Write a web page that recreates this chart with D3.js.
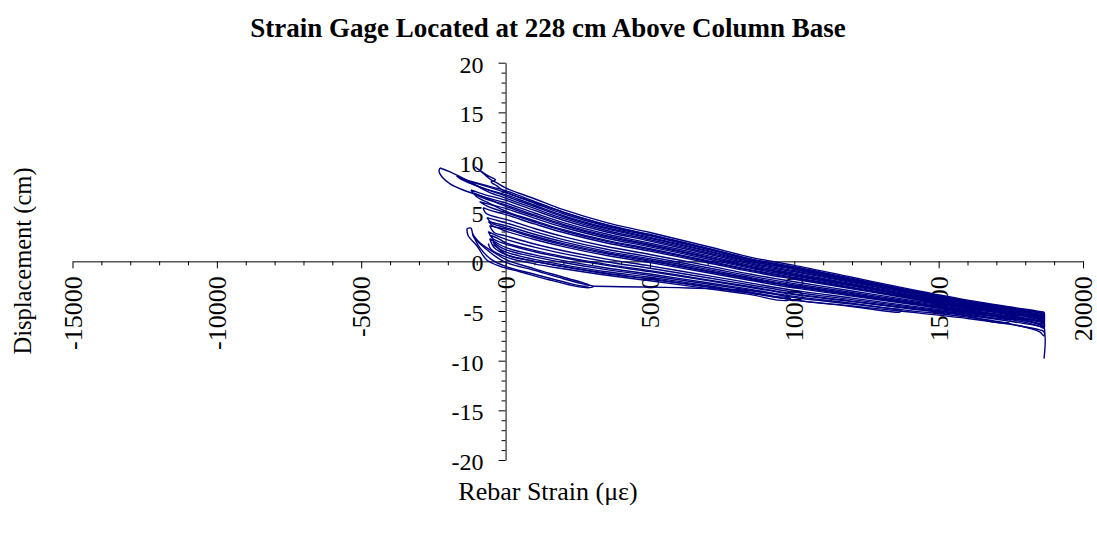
<!DOCTYPE html>
<html>
<head>
<meta charset="utf-8">
<script src="https://cdn.jsdelivr.net/npm/d3@7"></script>
<style>
  body { margin: 0; background: #fff; }
  svg { display: block; }
  text { font-family: "Liberation Serif", "Times New Roman", serif; fill: #000; }
</style>
</head>
<body>
<svg id="chart" width="1097" height="535"></svg>
<script>
// Axis tick values
const xMajorTicks = [-15000, -10000, -5000, 0, 5000, 10000, 15000, 20000];
const yMajorTicks = [-20, -15, -10, -5, 0, 5, 10, 15, 20];

// Recorded loops: [rebar strain (microstrain), displacement (cm)]
const loopSmall1 = [[-1340,3.3],[-1200,3.35],[-1110,2.5],[-700,1.3],[-70,0.0],[1000,-0.9],[2000,-1.75],[2800,-2.35],[3050,-2.5],[2900,-2.65],[2500,-2.55],[1500,-1.85],[500,-1.05],[-190,-0.5],[-650,0.13],[-1000,1.6],[-1300,2.6],[-1340,3.3]];
const loopSmall2 = [[-1150,2.8],[-900,1.9],[-400,0.9],[0,0.2],[1000,-0.75],[2000,-1.6],[2900,-2.4],[2700,-2.5],[2000,-2.05],[1000,-1.3],[0,-0.5],[-500,0.2],[-900,1.4],[-1150,2.8]];
const jumpPath = [[3050,-2.5],[4000,-2.55],[5000,-2.6],[6000,-2.65],[7000,-2.75],[8500,-2.95],[9400,-3.3]];
const loop1 = [[-450,1.7],[0,0.95],[1000,0.2],[2000,-0.35],[3500,-1.05],[5000,-1.6],[7000,-2.45],[8500,-3.1],[9400,-3.55],[9860,-3.7],[9800,-3.9],[9400,-3.9],[8500,-3.35],[7000,-2.75],[5000,-1.95],[3500,-1.4],[2000,-0.75],[1000,-0.25],[0,0.45],[-500,1.2],[-600,1.8]];
const loop2 = [[-550,2.3],[0,1.4],[1000,0.65],[2000,0.07],[3500,-0.67],[5000,-1.28],[7000,-2.15],[8500,-2.82],[10000,-3.53],[12000,-4.21],[13300,-4.75],[13700,-4.9],[13650,-5.1],[13300,-5.05],[12000,-4.55],[10000,-3.9],[8500,-3.2],[7000,-2.6],[5000,-1.8],[3500,-1.25],[2000,-0.55],[1000,0.0],[0,0.7],[-400,1.4],[-550,2.3]];
const loop3 = [[-600,3.0],[0,2.23],[1000,1.43],[2000,0.78],[3500,-0.04],[5000,-0.7],[7000,-1.65],[8500,-2.38],[10000,-3.1],[12000,-3.85],[14000,-4.6],[16000,-5.33],[16900,-5.7],[17500,-5.95],[17400,-6.15],[16900,-6.1],[16000,-5.5],[14000,-4.77],[12000,-4.06],[10000,-3.35],[8500,-2.63],[7000,-1.94],[5000,-1.04],[3500,-0.41],[2000,0.36],[1000,0.97],[0,1.74],[-450,2.3],[-600,3.0]];
const loop4 = [[-550,3.6],[-300,3.4],[0,3.05],[1000,2.2],[2000,1.48],[3500,0.59],[5000,-0.12],[7000,-1.15],[8500,-1.93],[10000,-2.67],[12000,-3.49],[14000,-4.31],[16000,-5.1],[17500,-5.73],[18500,-6.25],[18650,-6.35],[18650,-6.75],[18500,-6.55],[17500,-5.86],[16000,-5.23],[14000,-4.48],[12000,-3.7],[10000,-2.92],[8500,-2.19],[7000,-1.44],[5000,-0.46],[3500,0.23],[2000,1.07],[1000,1.75],[0,2.57],[-400,2.9],[-550,3.6]];
const loop5 = [[-650,4.4],[-400,4.2],[0,3.88],[1000,2.99],[2000,2.19],[3500,1.22],[5000,0.45],[7000,-0.64],[8500,-1.49],[10000,-2.24],[12000,-3.13],[14000,-4.02],[16000,-4.87],[17500,-5.52],[18500,-6.0],[18650,-6.1],[18650,-6.5],[18500,-6.3],[17500,-5.64],[16000,-5.0],[14000,-4.19],[12000,-3.34],[10000,-2.49],[8500,-1.75],[7000,-0.94],[5000,0.12],[3500,0.86],[2000,1.78],[1000,2.53],[0,3.4],[-450,3.8],[-650,4.4]];
const loop6 = [[-780,5.4],[-500,5.1],[0,4.71],[1000,3.77],[2000,2.9],[3500,1.85],[5000,1.03],[7000,-0.14],[8500,-1.04],[10000,-1.8],[12000,-2.77],[14000,-3.74],[16000,-4.64],[17500,-5.3],[18500,-5.8],[18650,-5.9],[18650,-6.3],[18500,-6.05],[17500,-5.43],[16000,-4.77],[14000,-3.9],[12000,-2.98],[10000,-2.06],[8500,-1.3],[7000,-0.43],[5000,0.69],[3500,1.49],[2000,2.49],[1000,3.31],[0,4.23],[-500,4.6],[-700,4.9],[-780,5.4]];
const loop7 = [[-1100,6.9],[-700,6.4],[0,5.54],[1000,4.55],[2000,3.61],[3500,2.48],[5000,1.6],[7000,0.37],[8500,-0.6],[10000,-1.37],[12000,-2.41],[14000,-3.45],[16000,-4.41],[17500,-5.09],[18500,-5.55],[18650,-5.65],[18650,-6.0],[18500,-5.8],[17500,-5.21],[16000,-4.55],[14000,-3.62],[12000,-2.62],[10000,-1.62],[8500,-0.86],[7000,0.07],[5000,1.27],[3500,2.11],[2000,3.19],[1000,4.09],[0,5.05],[-600,5.9],[-1000,6.5],[-1100,6.9]];
const loop8 = [[-2270,9.4],[-1920,9.0],[-1230,8.0],[-600,7.0],[0,6.37],[1000,5.33],[2000,4.32],[3500,3.11],[5000,2.18],[7000,0.87],[8500,-0.16],[10000,-0.94],[12000,-2.05],[14000,-3.16],[16000,-4.19],[17500,-4.87],[18500,-5.35],[18650,-5.45],[18650,-5.8],[18500,-5.6],[17500,-5.0],[16000,-4.32],[14000,-3.33],[12000,-2.26],[10000,-1.19],[8500,-0.41],[7000,0.58],[5000,1.84],[3500,2.75],[2000,3.9],[1000,4.87],[0,5.88],[-770,6.5],[-1920,7.8],[-2300,9.0],[-2270,9.4]];
const loop9 = [[-1400,8.2],[-1000,7.9],[-500,7.5],[0,7.12],[1000,6.04],[2000,4.96],[3500,3.69],[5000,2.71],[7000,1.33],[8500,0.25],[10000,-0.54],[12000,-1.72],[14000,-2.9],[16000,-3.98],[17500,-4.67],[18500,-5.15],[18650,-5.25],[18650,-5.6],[18500,-5.45],[17500,-4.78],[16000,-4.09],[14000,-3.04],[12000,-1.9],[10000,-0.76],[8500,0.03],[7000,1.08],[5000,2.42],[3500,3.38],[2000,4.61],[1000,5.65],[0,6.71],[-700,7.3],[-1250,7.9],[-1400,8.2]];
const loop10 = [[-1050,9.5],[-770,8.85],[-500,8.2],[-300,7.9],[0,7.4],[1000,6.3],[2000,5.2],[3500,3.9],[5000,2.9],[7000,1.5],[8500,0.4],[10000,-0.4],[12000,-1.6],[14000,-2.8],[16000,-3.9],[17500,-4.6],[18500,-5.05],[18650,-5.15],[18650,-5.5],[18500,-5.35],[17500,-4.75],[16000,-4.05],[14000,-2.95],[12000,-1.8],[10000,-0.65],[8500,0.2],[7000,1.25],[5000,2.65],[3500,3.65],[2000,4.95],[1000,5.95],[0,7.0],[-300,7.6],[-500,8.0],[-350,8.2],[-600,8.6],[-900,9.2],[-1050,9.5]];
const loop11 = [[-1700,8.6],[-1300,8.1],[-600,7.5],[0,6.92],[1000,5.85],[2000,4.79],[3500,3.53],[5000,2.56],[7000,1.21],[8500,0.14],[10000,-0.65],[12000,-1.81],[14000,-2.97],[16000,-4.03],[17500,-4.73],[18500,-5.2],[18650,-5.3],[18650,-5.65],[18500,-5.5],[17500,-4.82],[16000,-4.13],[14000,-3.09],[12000,-1.96],[10000,-0.83],[8500,-0.04],[7000,1.0],[5000,2.32],[3500,3.27],[2000,4.49],[1000,5.52],[0,6.57],[-800,7.4],[-1500,8.2],[-1700,8.6]];
const loop12 = [[-900,6.0],[-500,5.7],[0,5.33],[1000,4.35],[2000,3.43],[3500,2.33],[5000,1.46],[7000,0.24],[8500,-0.71],[10000,-1.48],[12000,-2.5],[14000,-3.52],[16000,-4.47],[17500,-5.14],[18500,-5.62],[18650,-5.72],[18650,-6.1],[18500,-5.9],[17500,-5.25],[16000,-4.58],[14000,-3.66],[12000,-2.68],[10000,-1.7],[8500,-0.93],[7000,-0.01],[5000,1.17],[3500,2.01],[2000,3.08],[1000,3.96],[0,4.92],[-600,5.5],[-900,6.0]];
const loop13 = [[-600,4.0],[-300,3.8],[0,3.6],[1000,2.73],[2000,1.96],[3500,1.01],[5000,0.26],[7000,-0.81],[8500,-1.64],[10000,-2.38],[12000,-3.25],[14000,-4.12],[16000,-4.95],[17500,-5.59],[18500,-6.1],[18650,-6.2],[18650,-6.6],[18500,-6.4],[17500,-5.68],[16000,-5.04],[14000,-4.24],[12000,-3.4],[10000,-2.56],[8500,-1.82],[7000,-1.02],[5000,0.02],[3500,0.75],[2000,1.66],[1000,2.4],[0,3.26],[-400,3.5],[-600,4.0]];
const loop14 = [[-500,2.6],[-250,2.3],[0,1.88],[1000,1.1],[2000,0.48],[3500,-0.3],[5000,-0.94],[7000,-1.86],[8500,-2.56],[10000,-3.28],[12000,-4.0],[14000,-4.72],[16000,-5.42],[17500,-6.04],[18500,-6.55],[18650,-6.7],[18650,-7.5],[18500,-7.1],[17500,-6.3],[16000,-5.61],[14000,-4.96],[12000,-4.3],[10000,-3.64],[8500,-2.93],[7000,-2.28],[5000,-1.42],[3500,-0.83],[2000,-0.11],[1000,0.45],[0,1.19],[-350,1.8],[-500,2.6]];
const loop15 = [[-1200,7.2],[-700,6.7],[0,6.16],[1000,5.13],[2000,4.14],[3500,2.96],[5000,2.04],[7000,0.74],[8500,-0.27],[10000,-1.05],[12000,-2.14],[14000,-3.23],[16000,-4.24],[17500,-4.92],[18500,-5.4],[18650,-5.5],[18650,-5.9],[18500,-5.7],[17500,-5.05],[16000,-4.38],[14000,-3.4],[12000,-2.35],[10000,-1.3],[8500,-0.53],[7000,0.45],[5000,1.7],[3500,2.59],[2000,3.73],[1000,4.68],[0,5.68],[-700,6.3],[-1100,6.8],[-1200,7.2]];
const finalPath = [[-450,2.0],[0,0.7],[1000,0.0],[2000,-0.5],[3500,-1.2],[5000,-1.75],[7000,-2.55],[8500,-3.2],[10000,-3.9],[12000,-4.5],[14000,-5.1],[16000,-5.75],[17500,-6.35],[18500,-6.9],[18650,-7.1],[18650,-9.8]];

const loops = [loopSmall1, loopSmall2, jumpPath, loop1, loop2, loop3, loop4, loop5, loop6, loop7, loop8, loop9, loop10, loop11, loop12, loop13, loop14, loop15, finalPath];

const svg = d3.select("#chart");

const x = d3.scaleLinear().domain([-15000, 20000]).range([72.5, 1083]);
const y = d3.scaleLinear().domain([-20, 20]).range([460, 62.7]);

const xMinor = d3.range(-15000, 20001, 1000).filter(v => !xMajorTicks.includes(v));
const yMinor = d3.range(-20, 21, 1).filter(v => !yMajorTicks.includes(v));
const plainNumber = d => String(d);

// Horizontal axis through displacement = 0
const gx = svg.append("g").attr("transform", `translate(0,${y(0)})`);
gx.call(d3.axisBottom(x).tickValues(xMajorTicks).tickSize(7).tickSizeOuter(0).tickFormat(plainNumber));
gx.selectAll(".tick text")
  .attr("transform", "rotate(-90)")
  .attr("text-anchor", "end")
  .attr("x", -15)
  .attr("y", 0)
  .attr("dy", "0.33em")
  .style("font-size", "26px");
const gxm = svg.append("g").attr("transform", `translate(0,${y(0)})`);
gxm.call(d3.axisBottom(x).tickValues(xMinor).tickSize(4).tickFormat(""));
gxm.select(".domain").remove();

// Vertical axis through strain = 0
const gy = svg.append("g").attr("transform", `translate(${x(0)},0)`);
gy.call(d3.axisLeft(y).tickValues(yMajorTicks).tickSize(7).tickSizeOuter(0).tickPadding(15).tickFormat(plainNumber));
gy.selectAll(".tick text").attr("dy", "0.4em").style("font-size", "24px");
const gym = svg.append("g").attr("transform", `translate(${x(0)},0)`);
gym.call(d3.axisLeft(y).tickValues(yMinor).tickSize(4).tickFormat(""));
gym.select(".domain").remove();

svg.selectAll(".domain, .tick line").attr("stroke", "#000").attr("stroke-width", 1);

// Hysteresis loops
const line = d3.line()
  .x(d => x(d[0]))
  .y(d => y(d[1]))
  .curve(d3.curveCatmullRom.alpha(0.5));

svg.append("g")
  .selectAll("path")
  .data(loops)
  .join("path")
  .attr("d", line)
  .attr("fill", "none")
  .attr("stroke", "#000080")
  .attr("stroke-width", 1.4)
  .attr("stroke-linejoin", "round");

// Titles
svg.append("text")
  .attr("x", 548).attr("y", 37)
  .attr("text-anchor", "middle")
  .style("font-size", "27px").style("font-weight", "bold")
  .text("Strain Gage Located at 228 cm Above Column Base");

svg.append("text")
  .attr("transform", "translate(31,261) rotate(-90)")
  .attr("text-anchor", "middle")
  .style("font-size", "24.5px")
  .text("Displacement (cm)");

svg.append("text")
  .attr("x", 548).attr("y", 500)
  .attr("text-anchor", "middle")
  .style("font-size", "26px")
  .text("Rebar Strain (με)");
</script>
</body>
</html>
